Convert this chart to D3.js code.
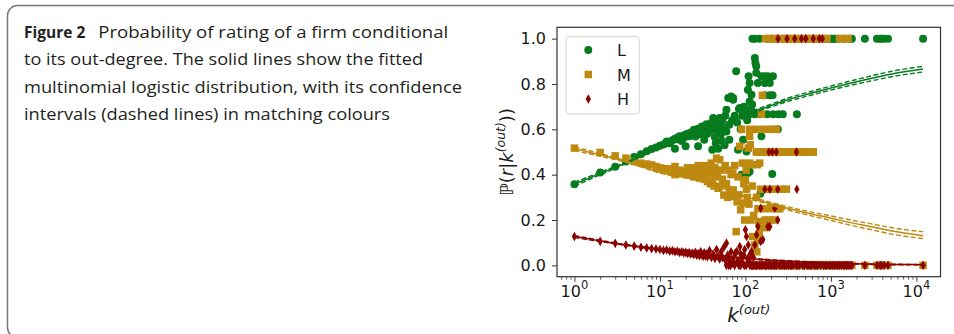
<!DOCTYPE html>
<html>
<head>
<meta charset="utf-8">
<script src="https://cdn.jsdelivr.net/npm/d3@7/dist/d3.min.js"></script>
<style>
  html, body { margin: 0; padding: 0; background: #fff; }
  svg { display: block; }
</style>
</head>
<body>
<svg id="fig" width="954" height="334"></svg>
<script>
// caption
const captionHead = 'Figure 2'
const captionLines = [
  'Probability of rating of a firm conditional',
  'to its out-degree. The solid lines show the fitted',
  'multinomial logistic distribution, with its confidence',
  'intervals (dashed lines) in matching colours',
]

const ratings = ['L', 'M', 'H']
const colors = { L: '#077c1f', M: '#bd890f', H: '#8b0400' }

const yTicks = [0, 0.2, 0.4, 0.6, 0.8, 1.0]
const xTicks = [1, 10, 100, 1000, 10000]
const xTickExp = ['0', '1', '2', '3', '4']

// fitted multinomial logistic curves
const fitK = [1, 2, 3, 5, 10, 20, 30, 50, 100, 200, 300, 500, 1000, 2000, 3000, 5000, 12000]
const fitL = [0.358, 0.405, 0.432, 0.468, 0.52, 0.555, 0.575, 0.61, 0.665, 0.705, 0.728, 0.752, 0.782, 0.81, 0.825, 0.843, 0.866]
const fitLlo = [0.35, 0.399, 0.428, 0.465, 0.517, 0.552, 0.572, 0.606, 0.66, 0.699, 0.721, 0.744, 0.773, 0.8, 0.814, 0.831, 0.853]
const fitLhi = [0.366, 0.411, 0.436, 0.471, 0.523, 0.558, 0.578, 0.614, 0.67, 0.711, 0.735, 0.76, 0.791, 0.82, 0.836, 0.855, 0.878]
const fitM = [0.515, 0.487, 0.471, 0.447, 0.41, 0.388, 0.375, 0.348, 0.304, 0.272, 0.253, 0.233, 0.208, 0.183, 0.17, 0.153, 0.131]
const fitMlo = [0.507, 0.481, 0.467, 0.444, 0.407, 0.385, 0.372, 0.344, 0.299, 0.266, 0.246, 0.225, 0.198, 0.171, 0.157, 0.139, 0.118]
const fitMhi = [0.523, 0.493, 0.475, 0.45, 0.413, 0.391, 0.378, 0.352, 0.309, 0.278, 0.26, 0.241, 0.218, 0.195, 0.183, 0.167, 0.148]
const fitH = [0.127, 0.108, 0.097, 0.085, 0.07, 0.057, 0.05, 0.042, 0.031, 0.023, 0.019, 0.015, 0.01, 0.007, 0.005, 0.004, 0.003]
const fitHlo = [0.123, 0.105, 0.095, 0.083, 0.068, 0.055, 0.048, 0.04, 0.029, 0.021, 0.017, 0.013, 0.009, 0.006, 0.004, 0.003, 0.002]
const fitHhi = [0.131, 0.111, 0.099, 0.087, 0.072, 0.059, 0.052, 0.044, 0.033, 0.025, 0.021, 0.017, 0.011, 0.008, 0.006, 0.005, 0.004]

// empirical P(r | k) where several firms share an out-degree
const pointsL = [
  [1, 0.358], [2, 0.41], [3, 0.435], [4, 0.458], [5, 0.478], [6, 0.49], [7, 0.503], [8, 0.513], [9, 0.52],
  [10, 0.528], [11, 0.533], [12, 0.546], [13, 0.538], [14, 0.552], [15, 0.514], [15, 0.558], [16, 0.563],
  [17, 0.569], [18, 0.548], [19, 0.573], [20, 0.525], [20, 0.576], [21, 0.58], [22, 0.569], [23, 0.586],
  [24, 0.575], [25, 0.598], [26, 0.568], [27, 0.59], [28, 0.525], [28, 0.603], [29, 0.598], [30, 0.578],
  [31, 0.612], [32, 0.59], [33, 0.554], [34, 0.606], [35, 0.622], [36, 0.58], [37, 0.6], [38, 0.59],
  [38, 0.613], [40, 0.628], [41, 0.51], [42, 0.65], [43, 0.6], [44, 0.565], [45, 0.54], [46, 0.632],
  [47, 0.59], [48, 0.514], [49, 0.61], [50, 0.628], [50, 0.65], [52, 0.58], [53, 0.55], [54, 0.64],
  [56, 0.6], [57, 0.53], [58, 0.66], [60, 0.59], [60, 0.686], [63, 0.738], [65, 0.554], [65, 0.62],
  [68, 0.745], [70, 0.64], [72, 0.738], [72, 0.73], [75, 0.66], [78, 0.856], [80, 0.63], [82, 0.51],
  [84, 0.69], [86, 0.694], [88, 0.6], [90, 0.4], [92, 0.66], [94, 0.554], [96, 0.7], [100, 0.67],
  [103, 0.502], [105, 0.64], [107, 0.775], [107, 0.407], [109, 0.834], [112, 0.804], [112, 0.414],
  [112, 0.723], [112, 0.667], [116, 0.69], [118, 0.753], [120, 0.71],
  [129, 0.915], [131, 0.893], [134, 0.878], [134, 0.849], [129, 0.667], [140, 0.804], [147, 0.667],
  [154, 0.834], [154, 0.569], [169, 0.834], [169, 0.804], [169, 0.75], [179, 0.667], [183, 0.834],
  [193, 0.804], [193, 0.75], [206, 0.403], [208, 0.75], [210, 0.834], [211, 0.667], [225, 0.253],
  [240, 0.6], [244, 0.667], [274, 0.667], [400, 0.667], [150, 0.316], [230, 0.254],
]

const pointsM = [
  [1, 0.517], [2, 0.498], [3, 0.483], [4, 0.473], [5, 0.458], [6, 0.451], [7, 0.447], [8, 0.443], [9, 0.436],
  [10, 0.43], [11, 0.427], [12, 0.42], [13, 0.426], [14, 0.414], [15, 0.436], [15, 0.4], [16, 0.412],
  [17, 0.42], [18, 0.405], [19, 0.415], [20, 0.414], [21, 0.43], [22, 0.4], [23, 0.425], [24, 0.43],
  [25, 0.39], [26, 0.418], [27, 0.407], [28, 0.44], [29, 0.385], [30, 0.439], [31, 0.4], [32, 0.42],
  [33, 0.38], [34, 0.44], [35, 0.405], [36, 0.37], [37, 0.436], [38, 0.41], [39, 0.36], [40, 0.451],
  [41, 0.377], [42, 0.42], [43, 0.35], [44, 0.43], [45, 0.39], [46, 0.473], [47, 0.4], [48, 0.34],
  [50, 0.466], [50, 0.348], [52, 0.42], [54, 0.38], [56, 0.31], [58, 0.44], [60, 0.36], [62, 0.3],
  [64, 0.42], [66, 0.33], [68, 0.4], [70, 0.304], [71, 0.407], [72, 0.333], [75, 0.44], [78, 0.149],
  [80, 0.28], [82, 0.39], [84, 0.311], [86, 0.525], [88, 0.245], [90, 0.6], [92, 0.451], [94, 0.275],
  [96, 0.36], [98, 0.2], [100, 0.377], [102, 0.42], [103, 0.336], [105, 0.3], [108, 0.517], [110, 0.27],
  [112, 0.569], [112, 0.6], [112, 0.451], [114, 0.532], [116, 0.2], [118, 0.444], [120, 0.35], [122, 0.127],
  [125, 0.22], [129, 0.09], [132, 0.6], [134, 0.5], [135, 0.3], [136, 0.06], [138, 0.444], [140, 0.25],
  [140, 0.5], [142, 0.11], [143, 0.193], [145, 0.14], [147, 0.451], [148, 0.5], [150, 0.336], [152, 0.17],
  [154, 0.667], [156, 0.5], [158, 0.75], [160, 0.6], [163, 0.167], [165, 0.5], [166, 0.25], [170, 0.2],
  [175, 0.5], [176, 0.167], [180, 0.336], [185, 0.5], [185, 0.6], [190, 0.2], [196, 0.5], [200, 0.25],
  [207, 0.5], [210, 0.6], [215, 0.2], [220, 0.336], [220, 0.5], [230, 0.6], [233, 0.5], [240, 0.25],
  [247, 0.5], [253, 0.25], [262, 0.5], [270, 0.336], [280, 0.5], [296, 0.5], [302, 0.336], [316, 0.5],
  [335, 0.5], [357, 0.5], [380, 0.5], [405, 0.5], [430, 0.5], [460, 0.5], [490, 0.5], [525, 0.5],
  [560, 0.5], [595, 0.5], [622, 0.5],
]

const pointsH = [
  [1, 0.127], [2, 0.106], [3, 0.097], [4, 0.09], [5, 0.085], [6, 0.08], [7, 0.077], [8, 0.074], [9, 0.072],
  [10, 0.07], [11, 0.066], [12, 0.068], [13, 0.063], [14, 0.065], [15, 0.06], [16, 0.062], [17, 0.057],
  [18, 0.06], [19, 0.055], [20, 0.058], [21, 0.052], [22, 0.056], [23, 0.05], [24, 0.054], [25, 0.048],
  [26, 0.058], [27, 0.045], [28, 0.052], [29, 0.043], [30, 0.06], [31, 0.047], [32, 0.04], [33, 0.055],
  [34, 0.042], [35, 0.05], [36, 0.038], [38, 0.065], [40, 0.035], [42, 0.05], [44, 0.03], [46, 0.07],
  [48, 0.04], [50, 0.028], [52, 0.06], [54, 0.035], [56, 0.08], [58, 0.025],
  [60, 0.098], [62, 0.045], [65, 0.02], [68, 0.06], [72, 0.03], [76, 0.054], [79, 0.061], [82, 0.02],
  [86, 0.083], [88, 0.05], [90, 0.015], [93, 0.039], [96, 0.045], [98, 0.07], [100, 0.157], [103, 0.127],
  [106, 0.03], [108, 0.09], [110, 0.02], [114, 0.05], [118, 0.061], [124, 0.035], [129, 0.09], [135, 0.135],
  [140, 0.171], [151, 0.105], [151, 0.252], [160, 0.113], [183, 0.171], [193, 0.171], [169, 0.336],
  [193, 0.336], [239, 0.336], [221, 0.252], [239, 0.2], [400, 0.336], [189, 0.5], [207, 0.5], [230, 0.5],
  [396, 0.5],
  [60, 0], [64, 0], [67, 0], [71, 0.01], [75, 0], [80, 0.015], [84, 0], [88, 0], [92, 0.01], [97, 0],
  [102, 0], [107, 0.012], [113, 0], [118, 0], [125, 0], [135, 0], [140, 0], [152, 0], [158, 0], [165, 0],
]

// out-degrees held by a single firm, with that firm's rating
const singleK = [
  121, 130, 147, 172, 178, 186, 195, 203, 212, 222, 232, 241, 250, 262, 275, 288, 300, 307, 318, 333,
  347, 362, 378, 392, 410, 428, 453, 470, 490, 509, 530, 552, 575, 600, 622, 645, 670, 700, 733, 760,
  795, 825, 860, 900, 960, 1000, 1050, 1100, 1150, 1210, 1260, 1330, 1400, 1450, 1530, 1590, 1680, 1760,
  2500, 3460, 3760, 3900, 4190, 4660, 11980,
]
const singleR = [
  'L', 'L', 'L', 'M', 'L', 'M', 'M', 'L', 'M', 'M', 'L', 'H', 'M', 'M', 'L', 'M', 'M', 'H', 'M', 'L',
  'M', 'M', 'H', 'M', 'L', 'M', 'H', 'M', 'M', 'H', 'M', 'L', 'M', 'M', 'H', 'M', 'L', 'M', 'H', 'M',
  'H', 'M', 'L', 'M', 'L', 'L', 'L', 'L', 'L', 'L', 'M', 'M', 'L', 'M', 'M', 'M', 'L', 'L',
  'L', 'L', 'L', 'L', 'L', 'L', 'L',
]

const svg = d3.select('#fig')
const font = 'DejaVu Sans, sans-serif'

// figure frame
svg.append('rect')
  .attr('x', 7.5).attr('y', 5.5).attr('width', 1000).attr('height', 332)
  .attr('rx', 10)
  .attr('fill', 'none').attr('stroke', '#777').attr('stroke-width', 1.5)

// caption
const capFont = 'Open Sans, Noto Sans, sans-serif'
const capWidths = [350, 399, 438, 366]
const capY = [38, 65.3, 92.6, 120]
svg.append('text')
  .attr('x', 24).attr('y', capY[0])
  .attr('font-family', capFont).attr('font-size', 15.5).attr('font-weight', 700)
  .attr('fill', '#231f20')
  .text(captionHead)
captionLines.forEach((line, i) => {
  svg.append('text')
    .attr('x', i === 0 ? 98.3 : 24).attr('y', capY[i])
    .attr('font-family', capFont).attr('font-size', 15.5)
    .attr('fill', '#231f20')
    .attr('textLength', capWidths[i]).attr('lengthAdjust', 'spacingAndGlyphs')
    .text(line)
})

// axes box
const plot = { left: 557, right: 940.5, top: 27.3, bottom: 276.7 }
const kMin = 1, kMax = 11980
const pad = 0.05 * (Math.log10(kMax) - Math.log10(kMin))
const x = d3.scaleLog()
  .domain([Math.pow(10, -pad), Math.pow(10, Math.log10(kMax) + pad)])
  .range([plot.left, plot.right])
const y = d3.scaleLinear().domain([-0.05, 1.05]).range([plot.bottom, plot.top])

const gPts = svg.append('g')

const shapes = {
  L: d3.symbol(d3.symbolCircle, 50)(),
  M: d3.symbol(d3.symbolSquare, 56)(),
  H: 'M0,-4.8L2.7,0L0,4.8L-2.7,0Z',
}

const pointSets = {
  L: pointsL.concat(singleK.map((k, i) => [k, singleR[i] === 'L' ? 1 : 0])),
  M: pointsM.concat(singleK.map((k, i) => [k, singleR[i] === 'M' ? 1 : 0])),
  H: pointsH.concat(singleK.map((k, i) => [k, singleR[i] === 'H' ? 1 : 0])),
}

ratings.forEach((r) => {
  gPts.append('g')
    .selectAll('path')
    .data(pointSets[r])
    .join('path')
    .attr('d', shapes[r])
    .attr('transform', (d) => `translate(${x(d[0])},${y(d[1])})`)
    .attr('fill', colors[r])
})

// fitted curves with dashed confidence bands
const fits = {
  L: [fitL, fitLlo, fitLhi],
  M: [fitM, fitMlo, fitMhi],
  H: [fitH, fitHlo, fitHhi],
}
const line = d3.line()
  .x((d) => x(d[0]))
  .y((d) => y(d[1]))
  .curve(d3.curveMonotoneX)

ratings.forEach((r) => {
  const [mid, lo, hi] = fits[r]
  ;[lo, hi].forEach((band) => {
    svg.append('path')
      .datum(fitK.map((k, i) => [k, band[i]]))
      .attr('d', line)
      .attr('fill', 'none')
      .attr('stroke', colors[r])
      .attr('stroke-width', 1.4)
      .attr('stroke-dasharray', '5,2.4')
  })
  svg.append('path')
    .datum(fitK.map((k, i) => [k, mid[i]]))
    .attr('d', line)
    .attr('fill', 'none')
    .attr('stroke', colors[r])
    .attr('stroke-width', 1.5)
})

// axes
const axisY = svg.append('g')
  .attr('transform', `translate(${plot.left},0)`)
  .call(d3.axisLeft(y).tickValues(yTicks).tickFormat(d3.format('.1f')).tickSize(5).tickPadding(6).tickSizeOuter(0))
axisY.select('.domain').remove()
axisY.selectAll('line').attr('stroke', '#333').attr('stroke-width', 1)
axisY.selectAll('text').attr('font-family', font).attr('font-size', 16).attr('fill', '#1a1a1a')

const minorTicks = []
for (let e = -1; e <= 4; e++) {
  for (let m = 2; m <= 9; m++) {
    const v = m * Math.pow(10, e)
    if (v > x.domain()[0] && v < x.domain()[1]) minorTicks.push(v)
  }
}
const axisXMinor = svg.append('g')
  .attr('transform', `translate(0,${plot.bottom})`)
  .call(d3.axisBottom(x).tickValues(minorTicks).tickFormat('').tickSize(3).tickSizeOuter(0))
axisXMinor.select('.domain').remove()
axisXMinor.selectAll('line').attr('stroke', '#333').attr('stroke-width', 0.8)

const axisX = svg.append('g')
  .attr('transform', `translate(0,${plot.bottom})`)
  .call(d3.axisBottom(x).tickValues(xTicks).tickFormat('').tickSize(5).tickSizeOuter(0))
axisX.select('.domain').remove()
axisX.selectAll('line').attr('stroke', '#333').attr('stroke-width', 1)

xTicks.forEach((t, i) => {
  const lbl = svg.append('text')
    .attr('x', x(t)).attr('y', 297.3)
    .attr('text-anchor', 'middle')
    .attr('font-family', font).attr('font-size', 16).attr('fill', '#1a1a1a')
  lbl.append('tspan').text('10')
  lbl.append('tspan').attr('font-size', 11.5).attr('dy', -8).text(xTickExp[i])
})

// frame
svg.append('rect')
  .attr('x', plot.left).attr('y', plot.top)
  .attr('width', plot.right - plot.left).attr('height', plot.bottom - plot.top)
  .attr('fill', 'none').attr('stroke', '#333').attr('stroke-width', 1.2)

// x label
const xl = svg.append('text')
  .attr('x', (plot.left + plot.right) / 2).attr('y', 322)
  .attr('text-anchor', 'middle')
  .attr('font-family', font).attr('fill', '#1a1a1a').attr('font-style', 'italic')
xl.append('tspan').attr('font-size', 20).text('k')
xl.append('tspan').attr('font-size', 13).attr('dy', -8).text('(out)')

// y label
const yl = svg.append('text')
  .attr('transform', `translate(513,${(plot.top + plot.bottom) / 2}) rotate(-90)`)
  .attr('text-anchor', 'middle')
  .attr('font-family', font).attr('font-size', 18).attr('fill', '#1a1a1a')
yl.append('tspan').text('ℙ(')
yl.append('tspan').attr('font-style', 'italic').text('r')
yl.append('tspan').text('|')
yl.append('tspan').attr('font-style', 'italic').text('k')
yl.append('tspan').attr('font-style', 'italic').attr('font-size', 12.5).attr('dy', -8).text('(out)')
yl.append('tspan').attr('dy', 8).text('))')

// legend
const lg = svg.append('g')
lg.append('rect')
  .attr('x', 566).attr('y', 36.7).attr('width', 73.3).attr('height', 77.3).attr('rx', 3)
  .attr('fill', '#fff').attr('fill-opacity', 0.8)
  .attr('stroke', '#d5d5d5').attr('stroke-width', 1)
ratings.forEach((r, i) => {
  const cy = 50 + i * 24.5
  lg.append('path').attr('d', shapes[r]).attr('transform', `translate(588.3,${cy})`).attr('fill', colors[r])
  lg.append('text')
    .attr('x', 617).attr('y', cy + 6)
    .attr('font-family', font).attr('font-size', 16).attr('fill', '#1a1a1a')
    .text(r)
})
</script>
</body>
</html>
